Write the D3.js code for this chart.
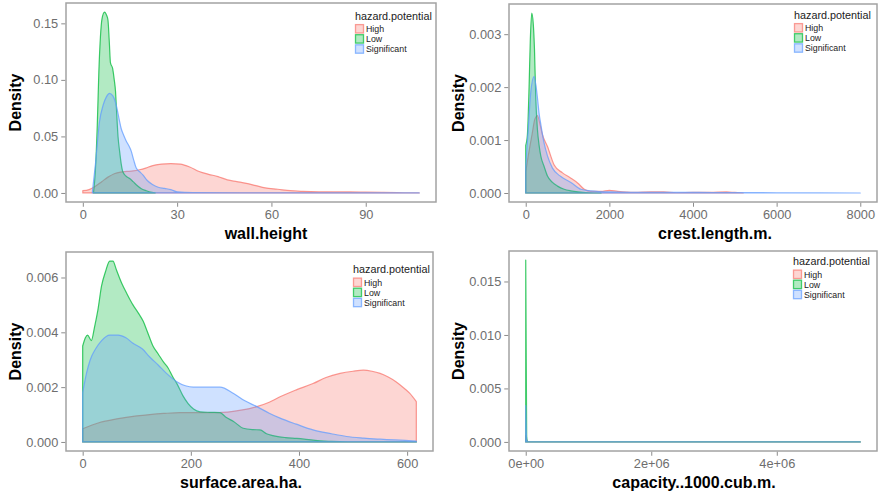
<!DOCTYPE html>
<html>

<head>
    <meta charset="utf-8">
    <style>
        body { margin: 0; background: #fff; }
        svg { font-family: "Liberation Sans", Arial, Helvetica, sans-serif; }
        .tick-label { fill: #6e6e6e; font-size: 12.8px; }
        .axis-title { font-weight: bold; font-size: 16px; fill: #000; }
        .legend-title { font-size: 10.8px; fill: #222; }
        .legend-label { font-size: 8.8px; fill: #222; }
    </style>
</head>

<body>
    <script src="https://d3js.org/d3.v7.min.js"></script>
    <script>
        // hazard levels and the default ggplot hues
        var hazardLevels = ["High", "Low", "Significant"];
        var hazardColors = ["#F8766D", "#00BA38", "#619CFF"];

        // wall.height densities, [value, density]
        var wallHigh = [[0, 0.002], [2, 0.003], [4, 0.006], [6, 0.01], [8, 0.014], [10, 0.017], [12, 0.0185], [14, 0.019],
            [16, 0.0195], [18, 0.0205], [20, 0.022], [22, 0.024], [25, 0.0255], [28, 0.026], [31, 0.0255], [34, 0.023],
            [37, 0.019], [40, 0.0165], [43, 0.0145], [46, 0.0115], [49, 0.01], [52, 0.0085], [55, 0.0065], [58, 0.0045],
            [62, 0.0033], [66, 0.002], [70, 0.0014], [75, 0.001], [80, 0.0009], [85, 0.0009], [90, 0.0007], [95, 0.0005],
            [100, 0.0003], [104, 0.0001], [107, 0]];
        var wallLow = [[3.4, 0], [4, 0.02], [4.6, 0.06], [5.1, 0.107], [5.6, 0.138], [6.1, 0.154], [6.9, 0.16], [7.6, 0.157],
            [8, 0.153], [8.4, 0.135], [8.8, 0.115], [9.5, 0.11], [10, 0.1], [10.4, 0.09], [10.8, 0.069], [11.2, 0.05],
            [11.7, 0.037], [12.2, 0.026], [12.7, 0.019], [13.7, 0.015], [14.8, 0.013], [16, 0.01], [17, 0.0073],
            [18.5, 0.004], [20.2, 0.002], [22, 0.0005], [23, 0]];
        var wallSignificant = [[3, 0], [4, 0.025], [5.3, 0.063], [6.5, 0.078], [7.5, 0.085], [8.5, 0.088],
            [9.5, 0.086], [10.6, 0.078], [11.5, 0.066], [12.2, 0.057], [13, 0.051], [13.8, 0.046], [14.6, 0.042],
            [15.4, 0.037], [16.2, 0.029], [17, 0.022], [18, 0.019], [19.1, 0.016], [20.5, 0.011], [22.3, 0.0073],
            [24, 0.005], [26, 0.004], [28, 0.003], [30, 0.001], [35, 0.0003], [50, 0.0001], [107, 0]];

        // crest.length.m.
        var crestHigh = [[0, 0.0004], [60, 0.0007], [150, 0.0011], [220, 0.0014], [280, 0.00146], [340, 0.0013], [400, 0.0011],
            [520, 0.00088], [680, 0.00053], [880, 0.00038], [1080, 0.00028], [1240, 0.00019], [1400, 0.00007], [1560, 0.00003],
            [1800, 0.00003], [2000, 0.00005], [2200, 0.00003], [2600, 0.00001], [3000, 0.00002], [3300, 0.00002],
            [3600, 0.000005], [4000, 0.00001], [4400, 0.00001], [4800, 0.00002], [5000, 0.00001], [5200, 0]];
        var crestLow = [[0, 0.0009], [40, 0.0011], [80, 0.002], [110, 0.0029], [144, 0.0034], [180, 0.0032], [210, 0.0027],
            [240, 0.0018], [280, 0.0012], [320, 0.0009], [360, 0.0007], [440, 0.0005], [520, 0.00032], [640, 0.0002],
            [760, 0.00013], [920, 0.00007], [1080, 0.00004], [1250, 0.00002], [1500, 0.000005], [1800, 0]];
        var crestSignificant = [[0, 0.0005], [60, 0.0012], [120, 0.0019], [200, 0.0022], [250, 0.002], [280, 0.0018],
            [320, 0.0015], [360, 0.0013], [440, 0.00094], [520, 0.0007], [640, 0.00047], [840, 0.00031], [1080, 0.0002],
            [1320, 0.00007], [1560, 0.00004], [2000, 0.00002], [3000, 0.00001], [4000, 0.00001], [6000, 0.000005], [8000, 0]];

        // surface.area.ha.
        var surfaceHigh = [[0, 0.00048], [30, 0.0007], [63, 0.00084], [100, 0.00095], [124, 0.001], [150, 0.00104],
            [180, 0.00107], [250, 0.00107], [290, 0.00115], [322, 0.00129], [345, 0.00145], [365, 0.00165], [395, 0.0019],
            [426, 0.00213], [450, 0.00235], [476, 0.0025], [500, 0.00258], [519, 0.00262], [535, 0.00258], [550, 0.0025],
            [565, 0.00237], [580, 0.00219], [595, 0.00195], [605, 0.00177], [617, 0.00147]];
        var surfaceLow = [[0, 0.0035], [5, 0.0038], [9, 0.0039], [16, 0.0037], [22, 0.0042], [28, 0.0048], [35, 0.0057],
            [42, 0.0062], [50, 0.0066], [56, 0.0066], [62, 0.0063], [72, 0.0058], [82, 0.0054], [93, 0.005], [103, 0.0047],
            [112, 0.0044], [120, 0.004], [130, 0.0035], [140, 0.0032], [150, 0.0029], [158, 0.0027], [166, 0.0024],
            [175, 0.0021], [185, 0.0017], [195, 0.0014], [205, 0.0012], [217, 0.0011], [235, 0.00108], [254, 0.00107],
            [265, 0.0009], [279, 0.00075], [297, 0.0005], [315, 0.00045], [328, 0.00044], [340, 0.0003], [352, 0.00023],
            [375, 0.00016], [396, 0.00013], [430, 0.00006], [460, 0.00002], [520, 0], [617, 0]];
        var surfaceSignificant = [[0, 0.0018], [7, 0.0025], [14, 0.003], [24, 0.0034], [35, 0.0037], [50, 0.0039],
            [66, 0.0039], [80, 0.0038], [93, 0.0036], [110, 0.0034], [124, 0.0031], [140, 0.0028], [155, 0.0025],
            [174, 0.0022], [190, 0.00205], [205, 0.002], [225, 0.002], [254, 0.002], [279, 0.00177], [300, 0.0015],
            [322, 0.00129], [345, 0.00105], [365, 0.00087], [395, 0.00065], [426, 0.00044], [460, 0.0003], [488, 0.0002],
            [520, 0.00014], [550, 0.0001], [617, 0.00003]];

        // capacity..1000.cub.m. - everything piles up at zero
        var capacityHigh = [[0, 0.0006], [20000, 0.0001], [50000, 0], [5330000, 0]];
        var capacityLow = [[0, 0.017], [15000, 0.0005], [30000, 0], [5330000, 0]];
        var capacitySignificant = [[0, 0.0034], [15000, 0.0002], [30000, 0.00001], [5330000, 0]];

        // tick values for each panel
        var wallTicksX = [0, 30, 60, 90], wallTicksY = [0, 0.05, 0.10, 0.15];
        var crestTicksX = [0, 2000, 4000, 6000, 8000], crestTicksY = [0, 0.001, 0.002, 0.003];
        var surfaceTicksX = [0, 200, 400, 600], surfaceTicksY = [0, 0.002, 0.004, 0.006];
        var capacityTicksX = [0, 2e6, 4e6], capacityTicksY = [0, 0.005, 0.010, 0.015];

        var svg = d3.select("body").append("svg")
            .attr("width", 880)
            .attr("height", 498);

        // one panel = one ggplot density chart
        function drawPanel(p) {
            var all = [].concat.apply([], p.series);
            var xMin = d3.min(all, function (d) { return d[0]; }),
                xMax = d3.max(all, function (d) { return d[0]; }),
                yMax = d3.max(all, function (d) { return d[1]; });
            var xPad = (xMax - xMin) * 0.05, yPad = yMax * 0.05;

            var x = d3.scaleLinear().domain([xMin - xPad, xMax + xPad]).range([p.left, p.right]);
            var y = d3.scaleLinear().domain([-yPad, yMax + yPad]).range([p.bottom, p.top]);

            var g = svg.append("g");

            var area = d3.area()
                .curve(d3.curveMonotoneX)
                .x(function (d) { return x(d[0]); })
                .y0(y(0))
                .y1(function (d) { return y(d[1]); });

            p.series.forEach(function (s, i) {
                g.append("path")
                    .datum(s)
                    .attr("d", area)
                    .attr("fill", hazardColors[i])
                    .attr("fill-opacity", 0.3)
                    .attr("stroke", hazardColors[i])
                    .attr("stroke-opacity", 0.75)
                    .attr("stroke-width", 1.2)
                    .attr("stroke-linejoin", "round");
            });

            // panel border
            g.append("rect")
                .attr("x", p.left).attr("y", p.top)
                .attr("width", p.right - p.left).attr("height", p.bottom - p.top)
                .attr("fill", "none").attr("stroke", "#a3a3a3").attr("stroke-width", 1.5);

            // axes, restyled to look like ggplot
            var xAxis = d3.axisBottom(x).tickValues(p.ticksX).tickFormat(p.formatX).tickSize(4).tickPadding(3);
            var yAxis = d3.axisLeft(y).tickValues(p.ticksY).tickFormat(p.formatY).tickSize(4).tickPadding(3);

            var gx = g.append("g").attr("transform", "translate(0," + (p.bottom + 0.75) + ")").call(xAxis);
            var gy = g.append("g").attr("transform", "translate(" + (p.left - 0.75) + ",0)").call(yAxis);
            [gx, gy].forEach(function (a) {
                a.select(".domain").remove();
                a.selectAll(".tick line").attr("stroke", "#8c8c8c");
                a.selectAll(".tick text").attr("class", "tick-label").attr("fill", null);
                a.attr("font-family", null).attr("font-size", null);
            });

            g.append("text")
                .attr("class", "axis-title")
                .attr("transform", "translate(" + (p.left - 45) + "," + ((p.top + p.bottom) / 2) + ") rotate(-90)")
                .attr("text-anchor", "middle")
                .text("Density");

            g.append("text")
                .attr("class", "axis-title")
                .attr("x", p.titleX)
                .attr("y", p.bottom + 37)
                .attr("text-anchor", "middle")
                .text(p.titleText);

            // legend inside the panel, top right
            var lg = g.append("g").attr("transform", "translate(" + p.legendX + "," + p.legendY + ")");
            lg.append("text").attr("class", "legend-title").attr("x", 0).attr("y", 3.8).text("hazard.potential");
            hazardLevels.forEach(function (h, i) {
                var cy = 12.8 + i * 10.1;
                lg.append("rect")
                    .attr("x", 0.5).attr("y", cy - 4.2).attr("width", 8).attr("height", 8.4)
                    .attr("fill", hazardColors[i]).attr("fill-opacity", 0.3)
                    .attr("stroke", hazardColors[i]).attr("stroke-opacity", 0.7).attr("stroke-width", 1.3);
                lg.append("text").attr("class", "legend-label")
                    .attr("x", 11).attr("y", cy + 3.2).text(h);
            });
        }

        var plain = function (d) { return String(d); };
        var fixed = function (n) { return function (d) { return d.toFixed(n); }; };
        var sci = function (d) { return d === 0 ? "0e+00" : d3.format(".0e")(d).replace("e+", "e+0"); };

        drawPanel({
            left: 66, right: 436, top: 3, bottom: 202,
            series: [wallHigh, wallLow, wallSignificant],
            ticksX: wallTicksX, ticksY: wallTicksY, formatX: plain, formatY: fixed(2),
            titleText: "wall.height", titleX: 266, legendX: 355, legendY: 16
        });
        drawPanel({
            left: 509, right: 877, top: 4, bottom: 202,
            series: [crestHigh, crestLow, crestSignificant],
            ticksX: crestTicksX, ticksY: crestTicksY, formatX: plain, formatY: fixed(3),
            titleText: "crest.length.m.", titleX: 715, legendX: 794, legendY: 15
        });
        drawPanel({
            left: 66, right: 433, top: 252, bottom: 451,
            series: [surfaceHigh, surfaceLow, surfaceSignificant],
            ticksX: surfaceTicksX, ticksY: surfaceTicksY, formatX: plain, formatY: fixed(3),
            titleText: "surface.area.ha.", titleX: 241, legendX: 353, legendY: 269.5
        });
        drawPanel({
            left: 509, right: 877, top: 251, bottom: 451,
            series: [capacityHigh, capacityLow, capacitySignificant],
            ticksX: capacityTicksX, ticksY: capacityTicksY, formatX: sci, formatY: fixed(3),
            titleText: "capacity..1000.cub.m.", titleX: 694, legendX: 793, legendY: 261.5
        });
    </script>
</body>

</html>
